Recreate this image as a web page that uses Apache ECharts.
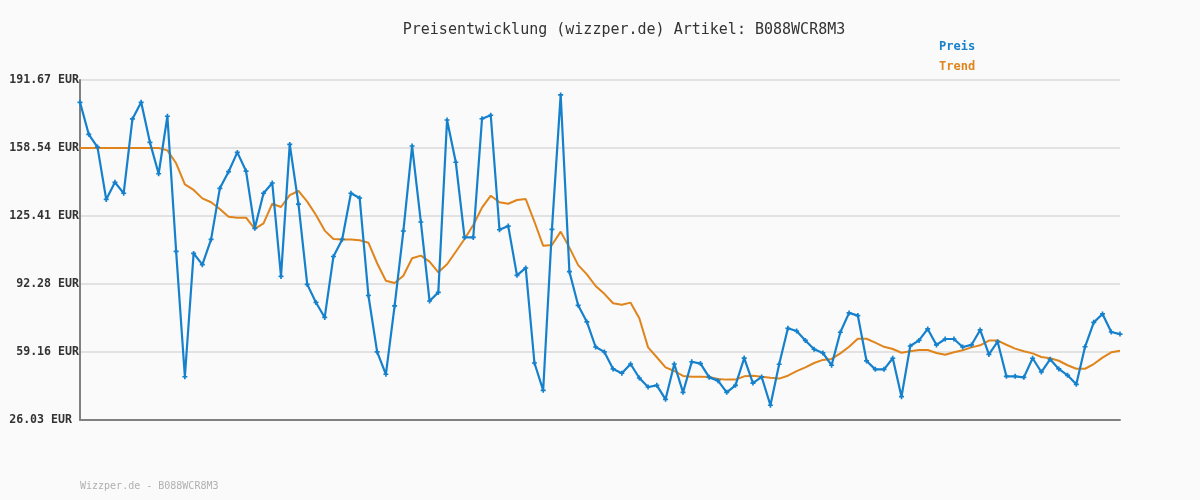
<!DOCTYPE html>
<html>
<head>
<meta charset="utf-8">
<script src="https://cdn.jsdelivr.net/npm/echarts@6/dist/echarts.min.js"></script>
<style>
html,body{margin:0;padding:0;background:#fafafa;}
#c{width:1200px;height:500px;}
</style>
</head>
<body>
<div id="c"></div>
<script>
const titleText = 'Preisentwicklung (wizzper.de) Artikel: B088WCR8M3';
const footerText = 'Wizzper.de - B088WCR8M3';
const seriesNames = ['Preis', 'Trend'];
const yTickLabels = ['26.03 EUR', '59.16 EUR', '92.28 EUR', '125.41 EUR', '158.54 EUR', '191.67 EUR'];
const yMin = 26.03;
const yStep = 33.128;

const price = [
  180.8,165.2,159.0,133.5,141.8,136.5,172.7,180.8,161.3,146.0,174.0,108.2,47.1,107.2,101.7,114.0,138.9,147.0,156.4,147.3,
  119.4,136.5,141.5,96.0,160.3,131.2,92.1,83.3,76.0,105.7,114.0,136.5,134.2,86.7,59.2,48.3,81.6,118.1,159.5,122.5,
  84.0,88.2,172.2,151.6,115.0,115.0,172.8,174.5,118.7,120.5,96.5,100.1,53.8,40.5,118.9,184.4,98.3,81.9,73.8,61.6,
  59.2,50.9,48.8,53.3,46.5,42.1,42.9,36.1,53.3,39.5,54.4,53.5,46.8,45.2,39.5,42.9,56.2,44.0,47.0,33.2,
  53.2,70.7,69.4,64.8,60.5,58.7,52.7,68.8,78.2,76.9,54.8,50.7,50.7,56.1,37.4,62.1,64.8,70.4,62.6,65.5,
  65.5,61.6,62.6,69.9,58.0,64.2,47.3,47.3,46.8,56.1,49.4,55.6,50.9,47.8,43.4,61.7,73.6,77.7,68.9,67.9
];
const trend = [
  158.5,158.5,158.5,158.5,158.5,158.5,158.5,158.5,158.5,158.5,157.4,151.1,140.8,138.1,134.0,132.1,128.8,125.1,124.6,124.6,
  119.1,121.8,131.4,129.8,135.6,137.6,132.4,125.9,118.3,114.2,114.0,114.0,113.6,112.4,102.4,93.9,92.8,96.3,104.8,106.1,
  103.2,98.0,101.9,108.0,114.2,121.0,129.5,135.3,132.1,131.4,133.2,133.7,122.6,110.9,111.3,117.8,110.0,101.5,97.0,91.3,
  87.5,82.9,82.2,83.2,75.6,61.4,56.6,51.7,49.9,47.5,47.1,47.1,47.0,46.0,45.7,45.7,47.3,47.6,47.1,46.6,
  46.2,47.6,49.8,51.7,53.8,55.3,55.8,58.5,61.7,65.6,65.6,63.7,61.7,60.6,58.8,59.5,60.1,60.1,58.7,57.8,
  59.0,60.0,61.4,62.4,64.7,64.7,62.7,60.8,59.5,58.5,56.7,56.1,54.9,52.7,51.0,51.0,53.3,56.4,59.0,59.8
];
const categories = price.map((_, i) => String(i + 1));

const BLUE = '#1580cc';
const ORANGE = '#e0841c';
const MONO = '"DejaVu Sans Mono", "Liberation Mono", monospace';

const chart = echarts.init(document.getElementById('c'), null, {renderer: 'canvas'});
chart.setOption({
  backgroundColor: '#fafafa',
  animation: false,
  title: {
    text: titleText,
    left: 619, top: 18, textAlign: 'center',
    textStyle: {fontFamily: MONO, fontSize: 15, fontWeight: 'normal', color: '#333'}
  },
  graphic: [
    {type: 'text', left: 939, top: 41, style: {text: seriesNames[0], fill: BLUE, font: 'bold 12px ' + MONO}},
    {type: 'text', left: 939, top: 61, style: {text: seriesNames[1], fill: ORANGE, font: 'bold 12px ' + MONO}},
    {type: 'text', left: 80, top: 481, style: {text: footerText, fill: '#b0b0b0', font: '10px ' + MONO}}
  ],
  grid: {left: 80, right: 80, top: 80, bottom: 80, containLabel: false},
  xAxis: {
    type: 'category',
    data: categories,
    boundaryGap: false,
    axisLine: {show: true, lineStyle: {color: '#808080', width: 2}},
    axisTick: {show: false},
    axisLabel: {show: false},
    splitLine: {show: false}
  },
  yAxis: {
    type: 'value',
    min: yMin,
    max: yMin + 5 * yStep + 0.0001,
    interval: yStep,
    axisLine: {show: true, lineStyle: {color: '#808080', width: 2}},
    axisTick: {show: false},
    axisLabel: {
      margin: 1,
      fontFamily: MONO, fontSize: 11.6, fontWeight: 'bold', color: '#333',
      formatter: (v, i) => i === 0 ? '{b|' + yTickLabels[i] + '}' : (yTickLabels[i] || ''),
      rich: {b: {fontFamily: MONO, fontSize: 11.6, fontWeight: 'bold', color: '#333', padding: [0, 7, 0, 0]}}
    },
    splitLine: {show: true, lineStyle: {color: '#e2e2e2', width: 2}}
  },
  series: [
    {
      name: seriesNames[1], type: 'line', data: trend,
      showSymbol: false, symbol: 'none',
      lineStyle: {color: ORANGE, width: 2}, z: 2
    },
    {
      name: seriesNames[0], type: 'line', data: price,
      symbol: 'path://M2,0h2v2h2v2h-2v2h-2v-2h-2v-2h2z', symbolSize: 5, showAllSymbol: true,
      itemStyle: {color: BLUE},
      lineStyle: {color: BLUE, width: 2.2}, z: 3
    }
  ]
});
</script>
</body>
</html>
